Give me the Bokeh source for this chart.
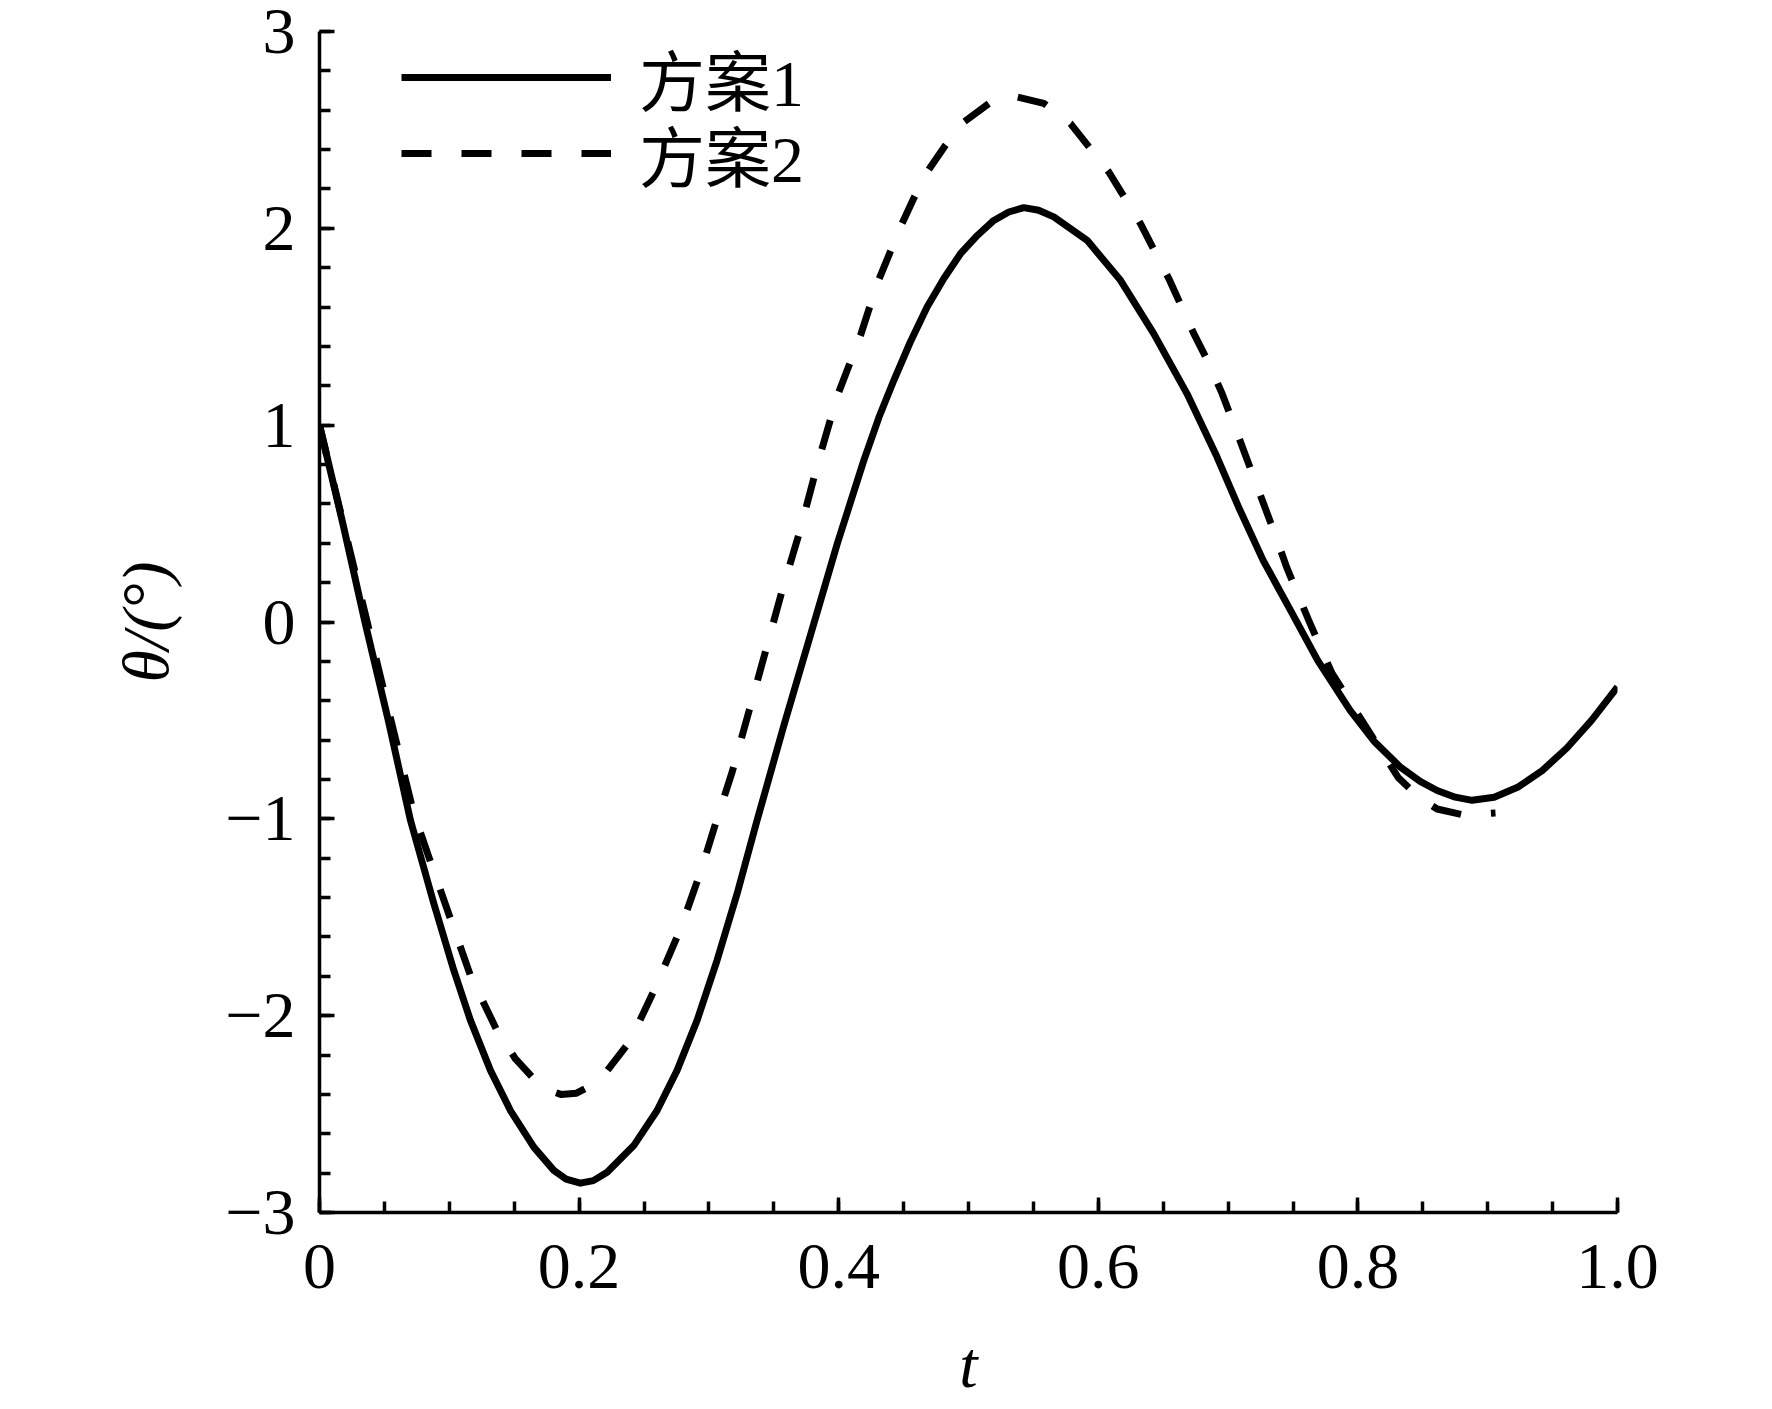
from bokeh.plotting import figure
from bokeh.models import Range1d, FixedTicker, Legend, LegendItem
from bokeh.embed import file_html
from bokeh.resources import INLINE

# ---- data ----
t1 = [0.000, 0.018, 0.035, 0.053, 0.0701, 0.0881, 0.1035, 0.1163, 0.1317, 0.1471,
      0.1651, 0.1805, 0.190, 0.201, 0.211, 0.2216, 0.2421, 0.2601, 0.2755, 0.2909,
      0.3063, 0.3217, 0.3371, 0.358, 0.379, 0.399, 0.4193, 0.431, 0.4425, 0.455,
      0.4681, 0.481, 0.4938, 0.507, 0.5195, 0.531, 0.5426, 0.554, 0.5657, 0.5914,
      0.6171, 0.6427, 0.6684, 0.6915, 0.709, 0.727, 0.748, 0.769, 0.794, 0.813,
      0.833, 0.848, 0.861, 0.875, 0.888, 0.905, 0.923, 0.942, 0.961, 0.980,
      1.000]
theta1 = [1.00, 0.50, 0.00, -0.50, -1.008, -1.431, -1.770, -2.024, -2.278, -2.482,
          -2.668, -2.786, -2.830, -2.851, -2.838, -2.795, -2.660, -2.482, -2.278, -2.024,
          -1.719, -1.381, -1.008, -0.52, -0.05, 0.40, 0.82, 1.04, 1.228, 1.42,
          1.600, 1.745, 1.871, 1.965, 2.040, 2.083, 2.105, 2.092, 2.058, 1.939,
          1.736, 1.465, 1.159, 0.838, 0.57, 0.313, 0.06, -0.195, -0.449, -0.61,
          -0.739, -0.81, -0.856, -0.89, -0.906, -0.89, -0.84, -0.755, -0.64, -0.50,
          -0.33]

t2 = [0.000, 0.018, 0.036, 0.054, 0.0725, 0.085, 0.1009, 0.1163, 0.1367, 0.151,
      0.1651, 0.1741, 0.186, 0.198, 0.208, 0.2178, 0.2396, 0.2589, 0.2781, 0.2935,
      0.3051, 0.318, 0.331, 0.344, 0.356, 0.370, 0.384, 0.399, 0.4168, 0.4296,
      0.4476, 0.458, 0.4681, 0.482, 0.4964, 0.517, 0.5375, 0.558, 0.5786, 0.6081,
      0.6325, 0.6543, 0.6736, 0.684, 0.6954, 0.707, 0.737, 0.745, 0.762, 0.780,
      0.805, 0.831, 0.847, 0.861, 0.881, 0.906]
theta2 = [1.00, 0.51, 0.02, -0.47, -0.97, -1.208, -1.508, -1.796, -2.075, -2.22,
          -2.321, -2.372, -2.400, -2.394, -2.36, -2.312, -2.126, -1.855, -1.559, -1.271,
          -1.025, -0.76, -0.45, -0.14, 0.15, 0.46, 0.81, 1.15, 1.456, 1.718,
          2.007, 2.155, 2.286, 2.42, 2.540, 2.640, 2.667, 2.635, 2.532, 2.286,
          2.024, 1.745, 1.465, 1.33, 1.16, 0.96, 0.43, 0.28, 0.01, -0.26,
          -0.52, -0.79, -0.89, -0.95, -0.98, -0.97]

series_names = ["方案1", "方案2"]

x_ticks = [0.0, 0.2, 0.4, 0.6, 0.8, 1.0]
x_tick_labels = ["0", "0.2", "0.4", "0.6", "0.8", "1.0"]
x_minor = [round(i * 0.05, 2) for i in range(21)]
y_ticks = [-3, -2, -1, 0, 1, 2, 3]
y_tick_labels = ["−3", "−2", "−1", "0", "1", "2", "3"]
y_minor = [round(-3 + i * 0.2, 1) for i in range(31)]

x_title = "t"
y_title = "θ/(°)"

SERIF = "Liberation Serif"

p = figure(frame_width=1298, frame_height=1181, output_backend="svg", toolbar_location=None,
           x_range=Range1d(0, 1), y_range=Range1d(-3, 3),
           min_border_left=319, min_border_right=139,
           min_border_top=31, min_border_bottom=150)
p.outline_line_color = None
p.xgrid.visible = False
p.ygrid.visible = False
p.background_fill_color = "white"

r1 = p.line(t1, theta1, line_color="black", line_width=7, line_join="round")
r2 = p.line(t2, theta2, line_color="black", line_width=7, line_dash="30 30",
            line_join="round")

for ax in (p.xaxis[0], p.yaxis[0]):
    ax.axis_line_width = 3.5
    ax.axis_line_color = "black"
    ax.major_tick_in = 15
    ax.major_tick_out = 0
    ax.minor_tick_in = 11
    ax.minor_tick_out = 0
    ax.major_tick_line_width = 3.5
    ax.minor_tick_line_width = 3.5
    ax.major_tick_line_color = "black"
    ax.minor_tick_line_color = "black"
    ax.major_label_text_font = SERIF
    ax.major_label_text_font_size = "66px"
    ax.major_label_text_color = "black"
    ax.axis_label_text_font = SERIF
    ax.axis_label_text_font_style = "italic"
    ax.axis_label_text_font_size = "66px"
    ax.axis_label_text_color = "black"

p.xaxis[0].ticker = FixedTicker(ticks=x_ticks, minor_ticks=x_minor)
p.yaxis[0].ticker = FixedTicker(ticks=y_ticks, minor_ticks=y_minor)
p.xaxis[0].major_label_overrides = dict(zip(x_ticks, x_tick_labels))
p.yaxis[0].major_label_overrides = dict(zip(y_ticks, y_tick_labels))
p.xaxis[0].major_label_standoff = 32
p.yaxis[0].major_label_standoff = 24

p.xaxis[0].axis_label = x_title
p.xaxis[0].axis_label_standoff = 37
p.yaxis[0].axis_label = y_title
p.yaxis[0].axis_label_standoff = 40

legend_common = dict(orientation="vertical", glyph_width=210, glyph_height=110,
                     label_height=110, spacing=0, padding=0, margin=0,
                     label_standoff=28, border_line_alpha=0, background_fill_alpha=0,
                     label_text_font="Liberation Serif, Noto Sans CJK SC",
                     label_text_font_size="66px", label_text_color="black")
leg1 = Legend(items=[LegendItem(label=series_names[0], renderers=[r1])],
              location=(82, 1080), **legend_common)
leg2 = Legend(items=[LegendItem(label=series_names[1], renderers=[r2])],
              location=(82, 1004), **legend_common)
p.add_layout(leg1)
p.add_layout(leg2)

open("out.html", "w").write(file_html(p, INLINE))
